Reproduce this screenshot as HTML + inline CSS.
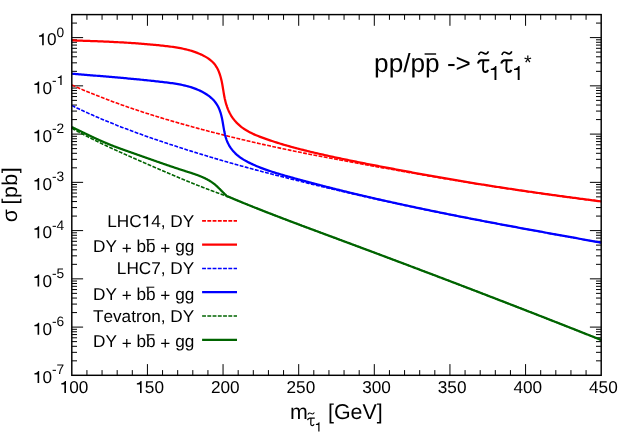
<!DOCTYPE html>
<html><head><meta charset="utf-8"><title>plot</title>
<style>
html,body{margin:0;padding:0;background:#fff;}
body{width:623px;height:436px;overflow:hidden;position:relative;font-family:"Liberation Sans",sans-serif;}
</style></head><body>
<svg width="623" height="436" viewBox="0 0 623 436" style="position:absolute;left:0;top:0;text-rendering:geometricPrecision;font-kerning:none;will-change:transform">
<path d="M86.93,375.3 v-5.2 M86.93,14.6 v5.2 M102.05,375.3 v-5.2 M102.05,14.6 v5.2 M117.18,375.3 v-5.2 M117.18,14.6 v5.2 M132.30,375.3 v-5.2 M132.30,14.6 v5.2 M147.43,375.3 v-11.2 M147.43,14.6 v11.2 M162.55,375.3 v-5.2 M162.55,14.6 v5.2 M177.68,375.3 v-5.2 M177.68,14.6 v5.2 M192.81,375.3 v-5.2 M192.81,14.6 v5.2 M207.93,375.3 v-5.2 M207.93,14.6 v5.2 M223.06,375.3 v-11.2 M223.06,14.6 v11.2 M238.18,375.3 v-5.2 M238.18,14.6 v5.2 M253.31,375.3 v-5.2 M253.31,14.6 v5.2 M268.43,375.3 v-5.2 M268.43,14.6 v5.2 M283.56,375.3 v-5.2 M283.56,14.6 v5.2 M298.69,375.3 v-11.2 M298.69,14.6 v11.2 M313.81,375.3 v-5.2 M313.81,14.6 v5.2 M328.94,375.3 v-5.2 M328.94,14.6 v5.2 M344.06,375.3 v-5.2 M344.06,14.6 v5.2 M359.19,375.3 v-5.2 M359.19,14.6 v5.2 M374.31,375.3 v-11.2 M374.31,14.6 v11.2 M389.44,375.3 v-5.2 M389.44,14.6 v5.2 M404.57,375.3 v-5.2 M404.57,14.6 v5.2 M419.69,375.3 v-5.2 M419.69,14.6 v5.2 M434.82,375.3 v-5.2 M434.82,14.6 v5.2 M449.94,375.3 v-11.2 M449.94,14.6 v11.2 M465.07,375.3 v-5.2 M465.07,14.6 v5.2 M480.19,375.3 v-5.2 M480.19,14.6 v5.2 M495.32,375.3 v-5.2 M495.32,14.6 v5.2 M510.45,375.3 v-5.2 M510.45,14.6 v5.2 M525.57,375.3 v-11.2 M525.57,14.6 v11.2 M540.70,375.3 v-5.2 M540.70,14.6 v5.2 M555.82,375.3 v-5.2 M555.82,14.6 v5.2 M570.95,375.3 v-5.2 M570.95,14.6 v5.2 M586.07,375.3 v-5.2 M586.07,14.6 v5.2 M71.8,360.83 h5.2 M601.2,360.83 h-5.2 M71.8,352.33 h5.2 M601.2,352.33 h-5.2 M71.8,346.30 h5.2 M601.2,346.30 h-5.2 M71.8,341.62 h5.2 M601.2,341.62 h-5.2 M71.8,337.80 h5.2 M601.2,337.80 h-5.2 M71.8,334.57 h5.2 M601.2,334.57 h-5.2 M71.8,331.78 h5.2 M601.2,331.78 h-5.2 M71.8,329.31 h5.2 M601.2,329.31 h-5.2 M71.8,327.10 h11.3 M601.2,327.10 h-11.3 M71.8,312.58 h5.2 M601.2,312.58 h-5.2 M71.8,304.08 h5.2 M601.2,304.08 h-5.2 M71.8,298.05 h5.2 M601.2,298.05 h-5.2 M71.8,293.37 h5.2 M601.2,293.37 h-5.2 M71.8,289.55 h5.2 M601.2,289.55 h-5.2 M71.8,286.32 h5.2 M601.2,286.32 h-5.2 M71.8,283.53 h5.2 M601.2,283.53 h-5.2 M71.8,281.06 h5.2 M601.2,281.06 h-5.2 M71.8,278.85 h11.3 M601.2,278.85 h-11.3 M71.8,264.33 h5.2 M601.2,264.33 h-5.2 M71.8,255.83 h5.2 M601.2,255.83 h-5.2 M71.8,249.80 h5.2 M601.2,249.80 h-5.2 M71.8,245.12 h5.2 M601.2,245.12 h-5.2 M71.8,241.30 h5.2 M601.2,241.30 h-5.2 M71.8,238.07 h5.2 M601.2,238.07 h-5.2 M71.8,235.28 h5.2 M601.2,235.28 h-5.2 M71.8,232.81 h5.2 M601.2,232.81 h-5.2 M71.8,230.60 h11.3 M601.2,230.60 h-11.3 M71.8,216.08 h5.2 M601.2,216.08 h-5.2 M71.8,207.58 h5.2 M601.2,207.58 h-5.2 M71.8,201.55 h5.2 M601.2,201.55 h-5.2 M71.8,196.87 h5.2 M601.2,196.87 h-5.2 M71.8,193.05 h5.2 M601.2,193.05 h-5.2 M71.8,189.82 h5.2 M601.2,189.82 h-5.2 M71.8,187.03 h5.2 M601.2,187.03 h-5.2 M71.8,184.56 h5.2 M601.2,184.56 h-5.2 M71.8,182.35 h11.3 M601.2,182.35 h-11.3 M71.8,167.83 h5.2 M601.2,167.83 h-5.2 M71.8,159.33 h5.2 M601.2,159.33 h-5.2 M71.8,153.30 h5.2 M601.2,153.30 h-5.2 M71.8,148.62 h5.2 M601.2,148.62 h-5.2 M71.8,144.80 h5.2 M601.2,144.80 h-5.2 M71.8,141.57 h5.2 M601.2,141.57 h-5.2 M71.8,138.78 h5.2 M601.2,138.78 h-5.2 M71.8,136.31 h5.2 M601.2,136.31 h-5.2 M71.8,134.10 h11.3 M601.2,134.10 h-11.3 M71.8,119.58 h5.2 M601.2,119.58 h-5.2 M71.8,111.08 h5.2 M601.2,111.08 h-5.2 M71.8,105.05 h5.2 M601.2,105.05 h-5.2 M71.8,100.37 h5.2 M601.2,100.37 h-5.2 M71.8,96.55 h5.2 M601.2,96.55 h-5.2 M71.8,93.32 h5.2 M601.2,93.32 h-5.2 M71.8,90.53 h5.2 M601.2,90.53 h-5.2 M71.8,88.06 h5.2 M601.2,88.06 h-5.2 M71.8,85.85 h11.3 M601.2,85.85 h-11.3 M71.8,71.33 h5.2 M601.2,71.33 h-5.2 M71.8,62.83 h5.2 M601.2,62.83 h-5.2 M71.8,56.80 h5.2 M601.2,56.80 h-5.2 M71.8,52.12 h5.2 M601.2,52.12 h-5.2 M71.8,48.30 h5.2 M601.2,48.30 h-5.2 M71.8,45.07 h5.2 M601.2,45.07 h-5.2 M71.8,42.28 h5.2 M601.2,42.28 h-5.2 M71.8,39.81 h5.2 M601.2,39.81 h-5.2 M71.8,37.60 h11.3 M601.2,37.60 h-11.3 M71.8,23.08 h5.2 M601.2,23.08 h-5.2" stroke="#000" stroke-width="1.0" fill="none"/>
<g fill="none" stroke-linejoin="round">
<path d="M71.82,85.03 L73.07,85.58 L74.32,86.13 L75.57,86.68 L76.82,87.22 L78.07,87.76 L79.32,88.30 L80.58,88.84 L81.83,89.37 L83.09,89.90 L84.35,90.43 L85.60,90.96 L86.86,91.48 L88.12,92.00 L89.38,92.52 L90.65,93.04 L91.91,93.55 L93.17,94.06 L94.44,94.57 L95.70,95.07 L96.97,95.58 L98.24,96.08 L99.50,96.57 L100.77,97.07 L102.04,97.56 L103.31,98.05 L104.59,98.54 L105.86,99.03 L107.13,99.51 L108.41,99.99 L109.68,100.47 L110.96,100.95 L112.23,101.42 L113.51,101.89 L114.79,102.36 L116.07,102.83 L117.35,103.29 L118.63,103.76 L119.91,104.22 L121.19,104.67 L122.48,105.13 L123.76,105.58 L125.05,106.04 L126.33,106.49 L127.62,106.93 L128.90,107.38 L130.19,107.82 L131.48,108.26 L132.77,108.70 L134.06,109.14 L135.35,109.57 L136.64,110.01 L137.93,110.44 L139.22,110.87 L140.52,111.29 L141.81,111.72 L143.11,112.14 L144.40,112.56 L145.70,112.98 L146.99,113.40 L148.29,113.82 L149.59,114.23 L150.89,114.64 L152.18,115.05 L153.48,115.46 L154.78,115.87 L156.08,116.27 L157.38,116.67 L158.69,117.08 L159.99,117.47 L161.29,117.87 L162.60,118.27 L163.90,118.66 L165.20,119.06 L166.51,119.45 L167.81,119.84 L169.12,120.22 L170.43,120.61 L171.73,120.99 L173.04,121.38 L174.35,121.76 L175.66,122.14 L176.97,122.52 L178.28,122.89 L179.59,123.27 L180.90,123.64 L182.21,124.01 L183.52,124.38 L184.83,124.75 L186.14,125.12 L187.45,125.49 L188.77,125.85 L190.08,126.22 L191.39,126.58 L192.71,126.94 L194.02,127.30 L195.34,127.66 L196.65,128.01 L197.97,128.37 L199.28,128.72 L200.60,129.08 L201.91,129.43 L203.23,129.78 L204.55,130.13 L205.87,130.48 L207.18,130.82 L208.50,131.17 L209.82,131.51 L211.14,131.86 L212.46,132.20 L213.78,132.54 L215.10,132.88 L216.42,133.22 L217.74,133.56 L219.06,133.89 L220.38,134.23 L221.70,134.56 L223.02,134.89 L224.34,135.23 L225.66,135.56 L226.98,135.89 L228.31,136.21 L229.63,136.54 L230.95,136.87 L232.28,137.19 L233.60,137.52 L234.92,137.84 L236.25,138.16 L237.57,138.48 L238.90,138.80 L240.22,139.12 L241.55,139.43 L242.87,139.75 L244.20,140.06 L245.52,140.38 L246.85,140.69 L248.17,141.00 L249.50,141.31 L250.83,141.62 L252.16,141.93 L253.48,142.24 L254.81,142.54 L256.14,142.85 L257.47,143.15 L258.79,143.45 L260.12,143.76 L261.45,144.06 L262.78,144.36 L264.11,144.65 L265.44,144.95 L266.77,145.25 L268.10,145.54 L269.43,145.84 L270.76,146.13 L272.09,146.42 L273.42,146.71 L274.75,147.00 L276.08,147.29 L277.42,147.58 L278.75,147.87 L280.08,148.15 L281.41,148.44 L282.74,148.72 L284.08,149.00 L285.41,149.28 L286.74,149.56 L288.08,149.84 L289.41,150.12 L290.74,150.40 L292.08,150.68 L293.41,150.95 L294.75,151.23 L296.08,151.50 L297.42,151.77 L298.75,152.04 L300.09,152.31 L301.42,152.58 L302.76,152.85 L304.09,153.12 L305.43,153.39 L306.76,153.65 L308.10,153.92 L309.44,154.18 L310.77,154.44 L312.11,154.71 L313.45,154.97 L314.78,155.23 L316.12,155.49 L317.46,155.75 L318.80,156.01 L320.13,156.26 L321.47,156.52 L322.81,156.78 L324.15,157.03 L325.48,157.29 L326.82,157.54 L328.16,157.79 L329.50,158.05 L330.84,158.30 L332.18,158.55 L333.52,158.80 L334.85,159.05 L336.19,159.30 L337.53,159.55 L338.87,159.80 L340.21,160.05 L341.55,160.30 L342.89,160.55 L344.23,160.79 L345.57,161.04 L346.91,161.29 L348.25,161.53 L349.59,161.78 L350.93,162.03 L352.27,162.27 L353.61,162.52 L354.95,162.76 L356.29,163.01 L357.63,163.25 L358.97,163.49 L360.31,163.74 L361.65,163.98 L362.99,164.22 L364.33,164.47 L365.67,164.71 L367.01,164.95 L368.35,165.20 L369.69,165.44 L371.03,165.68 L372.37,165.92 L373.71,166.17 L375.06,166.41 L376.40,166.65 L377.74,166.89 L379.08,167.13 L380.42,167.37 L381.76,167.61 L383.10,167.85 L384.44,168.09 L385.78,168.33 L387.12,168.57 L388.47,168.81 L389.81,169.05 L391.15,169.29 L392.49,169.53 L393.83,169.77 L395.17,170.01 L396.51,170.24 L397.85,170.48 L399.20,170.72 L400.54,170.96 L401.88,171.19 L403.22,171.43 L404.56,171.66 L405.90,171.90 L407.25,172.14 L408.59,172.37 L409.93,172.61 L411.27,172.84 L412.61,173.07 L413.96,173.31 L415.30,173.54 L416.64,173.78 L417.98,174.01 L419.33,174.24 L420.67,174.47 L422.01,174.71 L423.35,174.94 L424.70,175.17 L426.04,175.40 L427.38,175.63 L428.72,175.86 L430.07,176.09 L431.41,176.32 L432.75,176.55 L434.09,176.78 L435.44,177.01 L436.78,177.23 L438.12,177.46 L439.47,177.69 L440.81,177.92 L442.15,178.14 L443.50,178.37 L444.84,178.59 L446.18,178.82 L447.53,179.04 L448.87,179.27 L450.22,179.49 L451.56,179.72 L452.90,179.94 L454.25,180.16 L455.59,180.39 L456.94,180.61 L458.28,180.83 L459.62,181.05 L460.97,181.27 L462.31,181.49 L463.66,181.71 L465.00,181.93 L466.35,182.15 L467.69,182.37 L469.04,182.59 L470.38,182.80 L471.73,183.02 L473.07,183.24 L474.42,183.45 L475.76,183.67 L477.11,183.89 L478.45,184.10 L479.80,184.31 L481.14,184.53 L482.49,184.74 L483.83,184.96 L485.18,185.17 L486.52,185.38 L487.87,185.59 L489.22,185.80 L490.56,186.01 L491.91,186.22 L493.25,186.43 L494.60,186.64 L495.95,186.85 L497.29,187.06 L498.64,187.27 L499.98,187.47 L501.33,187.68 L502.68,187.89 L504.02,188.09 L505.37,188.30 L506.72,188.50 L508.07,188.71 L509.41,188.91 L510.76,189.11 L512.11,189.32 L513.45,189.52 L514.80,189.72 L516.15,189.92 L517.50,190.12 L518.84,190.32 L520.19,190.52 L521.54,190.72 L522.89,190.92 L524.23,191.12 L525.58,191.31 L526.93,191.51 L528.28,191.71 L529.63,191.90 L530.97,192.10 L532.32,192.29 L533.67,192.49 L535.02,192.68 L536.37,192.87 L537.72,193.07 L539.07,193.26 L540.41,193.45 L541.76,193.64 L543.11,193.83 L544.46,194.02 L545.81,194.21 L547.16,194.40 L548.51,194.58 L549.86,194.77 L551.21,194.96 L552.56,195.14 L553.91,195.33 L555.26,195.51 L556.61,195.70 L557.96,195.88 L559.31,196.07 L560.66,196.25 L562.01,196.43 L563.36,196.61 L564.71,196.79 L566.06,196.97 L567.41,197.15 L568.76,197.33 L570.11,197.51 L571.46,197.69 L572.81,197.86 L574.16,198.04 L575.52,198.22 L576.87,198.39 L578.22,198.56 L579.57,198.74 L580.92,198.91 L582.27,199.08 L583.62,199.26 L584.98,199.43 L586.33,199.60 L587.68,199.77 L589.03,199.94 L590.38,200.11 L591.74,200.27 L593.09,200.44 L594.44,200.61 L595.79,200.77 L597.15,200.94 L598.50,201.11 L599.85,201.27 L601.20,201.43" stroke="#ff0000" stroke-width="1.6" stroke-dasharray="3.85 1.4"/>
<path d="M71.77,40.37 L73.25,40.42 L74.73,40.46 L76.21,40.51 L77.69,40.56 L79.16,40.61 L80.64,40.66 L82.12,40.71 L83.59,40.76 L85.06,40.81 L86.54,40.86 L88.01,40.92 L89.48,40.97 L90.95,41.02 L92.42,41.08 L93.89,41.13 L95.36,41.19 L96.82,41.24 L98.29,41.30 L99.75,41.36 L101.22,41.42 L102.68,41.48 L104.15,41.54 L105.61,41.61 L107.08,41.67 L108.54,41.74 L110.00,41.81 L111.46,41.87 L112.92,41.95 L114.39,42.02 L115.85,42.09 L117.31,42.17 L118.77,42.25 L120.23,42.33 L121.69,42.41 L123.15,42.49 L124.61,42.58 L126.07,42.66 L127.53,42.75 L128.99,42.85 L130.45,42.94 L131.91,43.04 L133.37,43.13 L134.83,43.24 L136.29,43.34 L137.76,43.45 L139.22,43.56 L140.68,43.67 L142.14,43.78 L143.60,43.90 L145.07,44.02 L146.53,44.14 L147.99,44.27 L149.46,44.40 L150.92,44.53 L152.39,44.66 L153.86,44.80 L155.32,44.94 L156.79,45.09 L158.26,45.23 L159.73,45.39 L161.20,45.54 L162.67,45.70 L164.14,45.86 L165.61,46.03 L167.08,46.20 L168.55,46.38 L170.02,46.56 L171.49,46.76 L172.96,46.96 L174.43,47.18 L175.89,47.40 L177.35,47.64 L178.81,47.90 L180.26,48.16 L181.71,48.45 L183.15,48.75 L184.59,49.06 L186.03,49.40 L187.45,49.75 L188.88,50.13 L190.29,50.53 L191.70,50.95 L193.10,51.39 L194.49,51.86 L195.87,52.36 L197.25,52.88 L198.61,53.43 L199.97,54.00 L201.32,54.61 L202.65,55.25 L203.97,55.92 L205.27,56.63 L206.54,57.37 L207.78,58.15 L208.98,58.98 L210.14,59.84 L211.25,60.76 L212.31,61.72 L213.32,62.73 L214.26,63.80 L215.13,64.91 L215.94,66.08 L216.69,67.29 L217.39,68.54 L218.03,69.83 L218.62,71.16 L219.17,72.51 L219.67,73.89 L220.13,75.30 L220.56,76.73 L220.95,78.17 L221.30,79.63 L221.63,81.09 L221.94,82.56 L222.22,84.04 L222.49,85.51 L222.74,86.98 L222.98,88.45 L223.22,89.91 L223.46,91.38 L223.70,92.84 L223.94,94.29 L224.20,95.74 L224.48,97.19 L224.77,98.63 L225.10,100.07 L225.45,101.50 L225.83,102.92 L226.24,104.33 L226.68,105.73 L227.16,107.12 L227.67,108.49 L228.22,109.84 L228.82,111.18 L229.45,112.49 L230.12,113.79 L230.84,115.06 L231.60,116.31 L232.41,117.53 L233.26,118.72 L234.16,119.88 L235.11,121.01 L236.09,122.11 L237.11,123.17 L238.17,124.20 L239.25,125.19 L240.37,126.14 L241.51,127.05 L242.68,127.92 L243.87,128.76 L245.08,129.56 L246.32,130.33 L247.58,131.07 L248.85,131.78 L250.14,132.46 L251.45,133.12 L252.77,133.75 L254.10,134.36 L255.45,134.95 L256.81,135.53 L258.17,136.08 L259.55,136.62 L260.93,137.15 L262.31,137.66 L263.70,138.17 L265.09,138.66 L266.49,139.15 L267.88,139.64 L269.28,140.11 L270.68,140.58 L272.08,141.05 L273.48,141.51 L274.88,141.96 L276.28,142.41 L277.68,142.85 L279.09,143.28 L280.49,143.71 L281.90,144.14 L283.31,144.56 L284.72,144.97 L286.13,145.38 L287.54,145.79 L288.95,146.19 L290.36,146.58 L291.78,146.98 L293.19,147.36 L294.61,147.75 L296.03,148.12 L297.44,148.50 L298.86,148.87 L300.28,149.24 L301.70,149.60 L303.12,149.96 L304.55,150.32 L305.97,150.67 L307.39,151.02 L308.82,151.37 L310.24,151.72 L311.67,152.06 L313.09,152.40 L314.52,152.73 L315.95,153.07 L317.38,153.40 L318.81,153.73 L320.24,154.06 L321.67,154.39 L323.10,154.71 L324.53,155.03 L325.96,155.35 L327.40,155.67 L328.83,155.99 L330.26,156.30 L331.70,156.62 L333.13,156.93 L334.57,157.24 L336.01,157.55 L337.44,157.86 L338.88,158.16 L340.32,158.47 L341.75,158.77 L343.19,159.07 L344.63,159.37 L346.07,159.67 L347.51,159.97 L348.95,160.26 L350.39,160.56 L351.83,160.85 L353.27,161.14 L354.71,161.43 L356.15,161.72 L357.59,162.01 L359.04,162.30 L360.48,162.59 L361.92,162.87 L363.36,163.16 L364.81,163.44 L366.25,163.73 L367.69,164.01 L369.14,164.29 L370.58,164.57 L372.02,164.85 L373.47,165.13 L374.91,165.41 L376.35,165.69 L377.80,165.96 L379.24,166.24 L380.69,166.52 L382.13,166.79 L383.57,167.07 L385.02,167.34 L386.46,167.62 L387.91,167.89 L389.35,168.17 L390.79,168.44 L392.24,168.71 L393.68,168.98 L395.13,169.26 L396.57,169.53 L398.02,169.80 L399.46,170.07 L400.90,170.34 L402.35,170.61 L403.79,170.88 L405.23,171.15 L406.68,171.42 L408.12,171.69 L409.57,171.96 L411.01,172.23 L412.46,172.50 L413.90,172.76 L415.34,173.03 L416.79,173.29 L418.23,173.56 L419.68,173.82 L421.12,174.09 L422.57,174.35 L424.01,174.61 L425.46,174.88 L426.90,175.14 L428.35,175.40 L429.79,175.66 L431.24,175.92 L432.68,176.18 L434.13,176.43 L435.57,176.69 L437.02,176.95 L438.46,177.20 L439.91,177.46 L441.36,177.71 L442.80,177.97 L444.25,178.22 L445.70,178.47 L447.14,178.72 L448.59,178.97 L450.04,179.22 L451.48,179.47 L452.93,179.72 L454.38,179.96 L455.83,180.21 L457.28,180.45 L458.72,180.70 L460.17,180.94 L461.62,181.18 L463.07,181.42 L464.52,181.67 L465.97,181.91 L467.42,182.14 L468.87,182.38 L470.32,182.62 L471.77,182.86 L473.22,183.09 L474.67,183.33 L476.12,183.56 L477.57,183.80 L479.02,184.03 L480.47,184.26 L481.92,184.49 L483.37,184.72 L484.82,184.95 L486.27,185.18 L487.72,185.41 L489.17,185.64 L490.63,185.87 L492.08,186.09 L493.53,186.32 L494.98,186.54 L496.43,186.77 L497.89,186.99 L499.34,187.21 L500.79,187.44 L502.24,187.66 L503.70,187.88 L505.15,188.10 L506.60,188.32 L508.06,188.54 L509.51,188.76 L510.96,188.97 L512.42,189.19 L513.87,189.41 L515.32,189.62 L516.78,189.84 L518.23,190.05 L519.68,190.27 L521.14,190.48 L522.59,190.69 L524.05,190.90 L525.50,191.12 L526.95,191.33 L528.41,191.54 L529.86,191.75 L531.32,191.96 L532.77,192.16 L534.23,192.37 L535.68,192.58 L537.14,192.79 L538.59,192.99 L540.05,193.20 L541.50,193.40 L542.96,193.61 L544.41,193.81 L545.87,194.02 L547.32,194.22 L548.78,194.42 L550.23,194.63 L551.69,194.83 L553.14,195.03 L554.60,195.23 L556.06,195.43 L557.51,195.63 L558.97,195.83 L560.42,196.03 L561.88,196.23 L563.33,196.42 L564.79,196.62 L566.25,196.82 L567.70,197.02 L569.16,197.21 L570.61,197.41 L572.07,197.60 L573.53,197.80 L574.98,197.99 L576.44,198.19 L577.89,198.38 L579.35,198.57 L580.81,198.77 L582.26,198.96 L583.72,199.15 L585.17,199.34 L586.63,199.54 L588.09,199.73 L589.54,199.92 L591.00,200.11 L592.46,200.30 L593.91,200.49 L595.37,200.68 L596.82,200.87 L598.28,201.06 L599.74,201.25 L601.19,201.43" stroke="#ff0000" stroke-width="2.25"/>
<path d="M71.83,105.51 L73.07,106.12 L74.31,106.72 L75.55,107.31 L76.79,107.91 L78.03,108.50 L79.28,109.09 L80.52,109.67 L81.77,110.25 L83.02,110.83 L84.27,111.40 L85.52,111.98 L86.77,112.55 L88.02,113.11 L89.28,113.68 L90.53,114.24 L91.79,114.79 L93.04,115.35 L94.30,115.90 L95.56,116.45 L96.82,117.00 L98.08,117.54 L99.35,118.08 L100.61,118.62 L101.88,119.16 L103.14,119.69 L104.41,120.22 L105.68,120.75 L106.95,121.27 L108.22,121.79 L109.49,122.31 L110.76,122.83 L112.03,123.35 L113.31,123.86 L114.58,124.37 L115.86,124.88 L117.14,125.39 L118.42,125.89 L119.69,126.39 L120.97,126.89 L122.25,127.39 L123.54,127.88 L124.82,128.37 L126.10,128.86 L127.39,129.35 L128.67,129.84 L129.96,130.32 L131.24,130.80 L132.53,131.28 L133.82,131.76 L135.11,132.23 L136.40,132.71 L137.69,133.18 L138.98,133.65 L140.27,134.11 L141.56,134.58 L142.86,135.04 L144.15,135.51 L145.45,135.97 L146.74,136.43 L148.04,136.88 L149.33,137.34 L150.63,137.79 L151.93,138.24 L153.23,138.69 L154.53,139.14 L155.83,139.59 L157.13,140.03 L158.43,140.48 L159.73,140.92 L161.03,141.36 L162.33,141.80 L163.63,142.24 L164.94,142.67 L166.24,143.11 L167.55,143.54 L168.85,143.97 L170.16,144.40 L171.46,144.83 L172.77,145.26 L174.07,145.69 L175.38,146.11 L176.69,146.54 L178.00,146.96 L179.30,147.38 L180.61,147.80 L181.92,148.23 L183.23,148.64 L184.54,149.06 L185.85,149.48 L187.16,149.89 L188.47,150.31 L189.78,150.72 L191.09,151.13 L192.40,151.55 L193.72,151.96 L195.03,152.36 L196.34,152.77 L197.65,153.18 L198.97,153.58 L200.28,153.99 L201.59,154.39 L202.91,154.79 L204.22,155.19 L205.54,155.59 L206.85,155.99 L208.17,156.39 L209.48,156.79 L210.80,157.18 L212.12,157.58 L213.43,157.97 L214.75,158.36 L216.07,158.75 L217.39,159.14 L218.70,159.53 L220.02,159.91 L221.34,160.30 L222.66,160.68 L223.98,161.07 L225.30,161.45 L226.62,161.83 L227.94,162.21 L229.26,162.59 L230.58,162.96 L231.91,163.34 L233.23,163.71 L234.55,164.09 L235.87,164.46 L237.20,164.83 L238.52,165.20 L239.84,165.57 L241.17,165.94 L242.49,166.30 L243.82,166.67 L245.14,167.03 L246.47,167.39 L247.79,167.75 L249.12,168.11 L250.45,168.47 L251.77,168.83 L253.10,169.18 L254.43,169.54 L255.75,169.89 L257.08,170.25 L258.41,170.60 L259.74,170.95 L261.07,171.30 L262.39,171.65 L263.72,172.00 L265.05,172.35 L266.38,172.70 L267.71,173.04 L269.04,173.39 L270.37,173.73 L271.70,174.08 L273.03,174.42 L274.36,174.76 L275.69,175.10 L277.02,175.44 L278.35,175.79 L279.69,176.13 L281.02,176.46 L282.35,176.80 L283.68,177.14 L285.01,177.48 L286.34,177.82 L287.68,178.15 L289.01,178.49 L290.34,178.82 L291.67,179.16 L293.01,179.49 L294.34,179.83 L295.67,180.16 L297.01,180.49 L298.34,180.82 L299.67,181.15 L301.01,181.48 L302.34,181.81 L303.67,182.14 L305.01,182.47 L306.34,182.80 L307.68,183.13 L309.01,183.45 L310.35,183.78 L311.68,184.11 L313.02,184.43 L314.35,184.76 L315.69,185.08 L317.02,185.40 L318.36,185.73 L319.69,186.05 L321.03,186.37 L322.37,186.69 L323.70,187.01 L325.04,187.33 L326.38,187.65 L327.71,187.97 L329.05,188.29 L330.39,188.60 L331.72,188.92 L333.06,189.24 L334.40,189.55 L335.73,189.87 L337.07,190.18 L338.41,190.50 L339.75,190.81 L341.09,191.12 L342.42,191.43 L343.76,191.75 L345.10,192.06 L346.44,192.37 L347.78,192.68 L349.12,192.99 L350.46,193.29 L351.80,193.60 L353.14,193.91 L354.47,194.22 L355.81,194.52 L357.15,194.83 L358.49,195.13 L359.83,195.44 L361.17,195.74 L362.51,196.05 L363.85,196.35 L365.20,196.65 L366.54,196.95 L367.88,197.26 L369.22,197.56 L370.56,197.86 L371.90,198.16 L373.24,198.45 L374.58,198.75 L375.92,199.05 L377.27,199.35 L378.61,199.64 L379.95,199.94 L381.29,200.24 L382.63,200.53 L383.98,200.82 L385.32,201.12 L386.66,201.41 L388.00,201.70 L389.35,202.00 L390.69,202.29 L392.03,202.58 L393.38,202.87 L394.72,203.16 L396.06,203.45 L397.41,203.74 L398.75,204.03 L400.09,204.31 L401.44,204.60 L402.78,204.89 L404.13,205.17 L405.47,205.46 L406.82,205.74 L408.16,206.03 L409.50,206.31 L410.85,206.59 L412.19,206.88 L413.54,207.16 L414.88,207.44 L416.23,207.72 L417.57,208.00 L418.92,208.28 L420.27,208.56 L421.61,208.84 L422.96,209.12 L424.30,209.39 L425.65,209.67 L426.99,209.95 L428.34,210.22 L429.69,210.50 L431.03,210.77 L432.38,211.05 L433.73,211.32 L435.07,211.60 L436.42,211.87 L437.77,212.14 L439.11,212.41 L440.46,212.68 L441.81,212.96 L443.16,213.23 L444.50,213.50 L445.85,213.77 L447.20,214.03 L448.55,214.30 L449.89,214.57 L451.24,214.84 L452.59,215.11 L453.94,215.37 L455.29,215.64 L456.63,215.90 L457.98,216.17 L459.33,216.43 L460.68,216.70 L462.03,216.96 L463.38,217.23 L464.72,217.49 L466.07,217.75 L467.42,218.01 L468.77,218.28 L470.12,218.54 L471.47,218.80 L472.82,219.06 L474.17,219.32 L475.52,219.58 L476.87,219.84 L478.22,220.10 L479.57,220.36 L480.92,220.62 L482.27,220.88 L483.61,221.13 L484.96,221.39 L486.31,221.65 L487.66,221.91 L489.01,222.16 L490.36,222.42 L491.71,222.67 L493.07,222.93 L494.42,223.18 L495.77,223.44 L497.12,223.69 L498.47,223.95 L499.82,224.20 L501.17,224.46 L502.52,224.71 L503.87,224.96 L505.22,225.22 L506.57,225.47 L507.92,225.72 L509.27,225.97 L510.62,226.22 L511.97,226.48 L513.33,226.73 L514.68,226.98 L516.03,227.23 L517.38,227.48 L518.73,227.73 L520.08,227.98 L521.43,228.23 L522.78,228.48 L524.14,228.73 L525.49,228.98 L526.84,229.22 L528.19,229.47 L529.54,229.72 L530.89,229.97 L532.25,230.22 L533.60,230.47 L534.95,230.71 L536.30,230.96 L537.65,231.21 L539.00,231.46 L540.36,231.70 L541.71,231.95 L543.06,232.20 L544.41,232.44 L545.76,232.69 L547.12,232.93 L548.47,233.18 L549.82,233.43 L551.17,233.67 L552.52,233.92 L553.88,234.16 L555.23,234.41 L556.58,234.65 L557.93,234.90 L559.28,235.14 L560.64,235.39 L561.99,235.63 L563.34,235.88 L564.69,236.12 L566.05,236.37 L567.40,236.61 L568.75,236.86 L570.10,237.10 L571.46,237.34 L572.81,237.59 L574.16,237.83 L575.51,238.08 L576.86,238.32 L578.22,238.56 L579.57,238.81 L580.92,239.05 L582.27,239.29 L583.63,239.54 L584.98,239.78 L586.33,240.03 L587.68,240.27 L589.04,240.51 L590.39,240.76 L591.74,241.00 L593.09,241.24 L594.45,241.49 L595.80,241.73 L597.15,241.97 L598.50,242.22 L599.86,242.46 L601.21,242.70" stroke="#0000ff" stroke-width="1.6" stroke-dasharray="3.85 1.4"/>
<path d="M71.77,73.69 L73.24,73.82 L74.71,73.94 L76.17,74.06 L77.64,74.19 L79.10,74.31 L80.57,74.43 L82.03,74.55 L83.49,74.67 L84.96,74.79 L86.42,74.91 L87.88,75.03 L89.33,75.15 L90.79,75.27 L92.25,75.39 L93.71,75.51 L95.17,75.63 L96.62,75.75 L98.08,75.87 L99.53,75.99 L100.99,76.11 L102.44,76.24 L103.89,76.36 L105.35,76.48 L106.80,76.60 L108.25,76.72 L109.71,76.85 L111.16,76.97 L112.61,77.09 L114.06,77.22 L115.51,77.34 L116.96,77.47 L118.41,77.60 L119.86,77.72 L121.32,77.85 L122.77,77.98 L124.22,78.11 L125.67,78.24 L127.12,78.37 L128.57,78.51 L130.02,78.64 L131.47,78.77 L132.92,78.91 L134.37,79.05 L135.83,79.19 L137.28,79.33 L138.73,79.47 L140.18,79.61 L141.63,79.75 L143.09,79.90 L144.54,80.05 L145.99,80.19 L147.45,80.34 L148.90,80.50 L150.36,80.65 L151.81,80.80 L153.27,80.96 L154.73,81.12 L156.18,81.28 L157.64,81.44 L159.10,81.60 L160.56,81.77 L162.02,81.94 L163.48,82.11 L164.94,82.28 L166.40,82.45 L167.86,82.64 L169.32,82.82 L170.78,83.02 L172.24,83.22 L173.70,83.43 L175.15,83.66 L176.60,83.89 L178.05,84.14 L179.49,84.40 L180.93,84.68 L182.36,84.98 L183.79,85.29 L185.21,85.63 L186.63,85.98 L188.04,86.35 L189.45,86.75 L190.84,87.17 L192.23,87.62 L193.61,88.09 L194.99,88.59 L196.35,89.12 L197.70,89.68 L199.05,90.27 L200.38,90.89 L201.70,91.54 L203.01,92.23 L204.30,92.95 L205.56,93.71 L206.80,94.50 L208.00,95.33 L209.17,96.20 L210.31,97.10 L211.40,98.05 L212.45,99.03 L213.45,100.05 L214.40,101.12 L215.30,102.22 L216.13,103.37 L216.91,104.56 L217.62,105.78 L218.29,107.05 L218.90,108.34 L219.46,109.67 L219.97,111.02 L220.44,112.40 L220.86,113.80 L221.25,115.21 L221.60,116.64 L221.92,118.09 L222.22,119.55 L222.50,121.01 L222.76,122.49 L223.01,123.97 L223.26,125.44 L223.50,126.92 L223.75,128.40 L224.02,129.87 L224.29,131.34 L224.59,132.79 L224.91,134.24 L225.26,135.67 L225.65,137.08 L226.08,138.47 L226.55,139.85 L227.07,141.20 L227.65,142.52 L228.28,143.82 L228.96,145.08 L229.69,146.32 L230.48,147.53 L231.31,148.71 L232.18,149.86 L233.11,150.97 L234.07,152.05 L235.07,153.09 L236.12,154.10 L237.20,155.06 L238.32,155.99 L239.47,156.89 L240.65,157.74 L241.86,158.56 L243.10,159.34 L244.36,160.10 L245.63,160.83 L246.93,161.53 L248.23,162.21 L249.55,162.87 L250.87,163.51 L252.20,164.14 L253.53,164.75 L254.87,165.34 L256.22,165.92 L257.57,166.49 L258.92,167.04 L260.28,167.58 L261.64,168.11 L263.01,168.63 L264.38,169.13 L265.76,169.62 L267.14,170.11 L268.52,170.58 L269.90,171.04 L271.29,171.50 L272.68,171.95 L274.08,172.39 L275.47,172.82 L276.87,173.25 L278.27,173.67 L279.67,174.09 L281.07,174.50 L282.48,174.91 L283.89,175.31 L285.29,175.71 L286.70,176.11 L288.11,176.51 L289.52,176.90 L290.92,177.29 L292.33,177.69 L293.74,178.08 L295.15,178.47 L296.56,178.86 L297.97,179.24 L299.38,179.63 L300.79,180.01 L302.20,180.40 L303.61,180.78 L305.03,181.16 L306.44,181.54 L307.85,181.92 L309.26,182.30 L310.68,182.67 L312.09,183.05 L313.50,183.42 L314.92,183.79 L316.33,184.16 L317.74,184.53 L319.16,184.90 L320.57,185.27 L321.99,185.64 L323.40,186.00 L324.82,186.36 L326.24,186.73 L327.65,187.09 L329.07,187.45 L330.48,187.81 L331.90,188.17 L333.32,188.52 L334.74,188.88 L336.15,189.23 L337.57,189.59 L338.99,189.94 L340.41,190.29 L341.83,190.64 L343.25,190.99 L344.67,191.34 L346.09,191.69 L347.51,192.03 L348.93,192.38 L350.35,192.72 L351.77,193.07 L353.19,193.41 L354.61,193.75 L356.03,194.09 L357.45,194.43 L358.88,194.76 L360.30,195.10 L361.72,195.44 L363.14,195.77 L364.56,196.11 L365.99,196.44 L367.41,196.77 L368.83,197.10 L370.26,197.43 L371.68,197.76 L373.11,198.09 L374.53,198.42 L375.96,198.74 L377.38,199.07 L378.81,199.39 L380.23,199.71 L381.66,200.04 L383.08,200.36 L384.51,200.68 L385.93,201.00 L387.36,201.32 L388.79,201.64 L390.21,201.95 L391.64,202.27 L393.07,202.58 L394.49,202.90 L395.92,203.21 L397.35,203.53 L398.78,203.84 L400.21,204.15 L401.63,204.46 L403.06,204.77 L404.49,205.08 L405.92,205.39 L407.35,205.69 L408.78,206.00 L410.21,206.31 L411.64,206.61 L413.07,206.91 L414.50,207.22 L415.93,207.52 L417.36,207.82 L418.79,208.12 L420.22,208.42 L421.65,208.72 L423.08,209.02 L424.51,209.32 L425.94,209.62 L427.37,209.92 L428.80,210.21 L430.24,210.51 L431.67,210.80 L433.10,211.10 L434.53,211.39 L435.96,211.68 L437.40,211.97 L438.83,212.27 L440.26,212.56 L441.69,212.85 L443.13,213.14 L444.56,213.43 L445.99,213.71 L447.43,214.00 L448.86,214.29 L450.29,214.58 L451.73,214.86 L453.16,215.15 L454.59,215.43 L456.03,215.72 L457.46,216.00 L458.90,216.28 L460.33,216.57 L461.77,216.85 L463.20,217.13 L464.64,217.41 L466.07,217.69 L467.51,217.97 L468.94,218.25 L470.38,218.53 L471.81,218.81 L473.25,219.09 L474.68,219.36 L476.12,219.64 L477.55,219.92 L478.99,220.19 L480.43,220.47 L481.86,220.74 L483.30,221.02 L484.73,221.29 L486.17,221.57 L487.61,221.84 L489.04,222.11 L490.48,222.38 L491.92,222.66 L493.35,222.93 L494.79,223.20 L496.23,223.47 L497.66,223.74 L499.10,224.01 L500.54,224.28 L501.98,224.55 L503.41,224.82 L504.85,225.09 L506.29,225.36 L507.72,225.63 L509.16,225.89 L510.60,226.16 L512.04,226.43 L513.47,226.69 L514.91,226.96 L516.35,227.23 L517.79,227.49 L519.23,227.76 L520.66,228.02 L522.10,228.29 L523.54,228.55 L524.98,228.82 L526.42,229.08 L527.85,229.35 L529.29,229.61 L530.73,229.87 L532.17,230.14 L533.61,230.40 L535.04,230.66 L536.48,230.93 L537.92,231.19 L539.36,231.45 L540.80,231.71 L542.24,231.98 L543.67,232.24 L545.11,232.50 L546.55,232.76 L547.99,233.02 L549.43,233.28 L550.87,233.55 L552.31,233.81 L553.74,234.07 L555.18,234.33 L556.62,234.59 L558.06,234.85 L559.50,235.11 L560.94,235.37 L562.37,235.63 L563.81,235.89 L565.25,236.15 L566.69,236.41 L568.13,236.67 L569.57,236.93 L571.01,237.19 L572.44,237.45 L573.88,237.71 L575.32,237.97 L576.76,238.23 L578.20,238.49 L579.64,238.75 L581.07,239.01 L582.51,239.27 L583.95,239.53 L585.39,239.79 L586.83,240.05 L588.27,240.31 L589.70,240.57 L591.14,240.83 L592.58,241.09 L594.02,241.35 L595.46,241.61 L596.89,241.87 L598.33,242.13 L599.77,242.39 L601.21,242.65" stroke="#0000ff" stroke-width="2.25"/>
<path d="M71.83,128.24 L72.20,128.44 L72.58,128.65 L72.95,128.86 L73.32,129.07 L73.70,129.27 L74.07,129.48 L74.44,129.68 L74.82,129.89 L75.19,130.09 L75.56,130.30 L75.94,130.50 L76.31,130.71 L76.69,130.91 L77.06,131.11 L77.44,131.31 L77.81,131.52 L78.19,131.72 L78.56,131.92 L78.94,132.12 L79.32,132.32 L79.69,132.52 L80.07,132.72 L80.44,132.92 L80.82,133.12 L81.20,133.32 L81.57,133.52 L81.95,133.72 L82.33,133.92 L82.71,134.11 L83.08,134.31 L83.46,134.51 L83.84,134.70 L84.22,134.90 L84.59,135.10 L84.97,135.29 L85.35,135.49 L85.73,135.68 L86.11,135.88 L86.49,136.07 L86.87,136.27 L87.24,136.46 L87.62,136.65 L88.00,136.85 L88.38,137.04 L88.76,137.23 L89.14,137.43 L89.52,137.62 L89.90,137.81 L90.28,138.00 L90.66,138.19 L91.04,138.38 L91.42,138.57 L91.80,138.76 L92.18,138.95 L92.57,139.14 L92.95,139.33 L93.33,139.52 L93.71,139.71 L94.09,139.90 L94.47,140.09 L94.85,140.28 L95.24,140.47 L95.62,140.65 L96.00,140.84 L96.38,141.03 L96.77,141.21 L97.15,141.40 L97.53,141.59 L97.91,141.77 L98.30,141.96 L98.68,142.15 L99.06,142.33 L99.45,142.52 L99.83,142.70 L100.21,142.89 L100.60,143.07 L100.98,143.25 L101.36,143.44 L101.75,143.62 L102.13,143.81 L102.52,143.99 L102.90,144.17 L103.28,144.35 L103.67,144.54 L104.05,144.72 L104.44,144.90 L104.82,145.08 L105.21,145.27 L105.59,145.45 L105.98,145.63 L106.36,145.81 L106.75,145.99 L107.13,146.17 L107.52,146.35 L107.90,146.53 L108.29,146.71 L108.67,146.89 L109.06,147.07 L109.45,147.25 L109.83,147.43 L110.22,147.61 L110.60,147.79 L110.99,147.97 L111.38,148.15 L111.76,148.32 L112.15,148.50 L112.54,148.68 L112.92,148.86 L113.31,149.04 L113.70,149.21 L114.08,149.39 L114.47,149.57 L114.86,149.74 L115.25,149.92 L115.63,150.10 L116.02,150.27 L116.41,150.45 L116.80,150.63 L117.18,150.80 L117.57,150.98 L117.96,151.15 L118.35,151.33 L118.73,151.51 L119.12,151.68 L119.51,151.86 L119.90,152.03 L120.29,152.21 L120.67,152.38 L121.06,152.56 L121.45,152.73 L121.84,152.90 L122.23,153.08 L122.62,153.25 L123.00,153.43 L123.39,153.60 L123.78,153.77 L124.17,153.95 L124.56,154.12 L124.95,154.30 L125.34,154.47 L125.73,154.64 L126.12,154.81 L126.50,154.99 L126.89,155.16 L127.28,155.33 L127.67,155.51 L128.06,155.68 L128.45,155.85 L128.84,156.02 L129.23,156.20 L129.62,156.37 L130.01,156.54 L130.40,156.71 L130.79,156.88 L131.18,157.06 L131.57,157.23 L131.96,157.40 L132.35,157.57 L132.74,157.74 L133.13,157.91 L133.52,158.09 L133.91,158.26 L134.30,158.43 L134.69,158.60 L135.08,158.77 L135.47,158.94 L135.86,159.11 L136.25,159.28 L136.64,159.45 L137.03,159.63 L137.42,159.80 L137.81,159.97 L138.20,160.14 L138.59,160.31 L138.98,160.48 L139.37,160.65 L139.76,160.82 L140.15,160.99 L140.54,161.16 L140.93,161.33 L141.32,161.50 L141.71,161.67 L142.10,161.84 L142.49,162.01 L142.88,162.18 L143.27,162.35 L143.66,162.52 L144.05,162.69 L144.44,162.86 L144.83,163.03 L145.23,163.20 L145.62,163.37 L146.01,163.55 L146.40,163.72 L146.79,163.89 L147.18,164.06 L147.57,164.23 L147.96,164.40 L148.35,164.57 L148.74,164.74 L149.13,164.91 L149.52,165.08 L149.91,165.25 L150.30,165.42 L150.69,165.59 L151.08,165.76 L151.48,165.93 L151.87,166.10 L152.26,166.27 L152.65,166.44 L153.04,166.60 L153.43,166.77 L153.82,166.94 L154.21,167.11 L154.60,167.28 L154.99,167.45 L155.38,167.62 L155.78,167.79 L156.17,167.96 L156.56,168.13 L156.95,168.30 L157.34,168.47 L157.73,168.64 L158.12,168.81 L158.51,168.98 L158.90,169.15 L159.29,169.31 L159.69,169.48 L160.08,169.65 L160.47,169.82 L160.86,169.99 L161.25,170.16 L161.64,170.33 L162.03,170.50 L162.43,170.66 L162.82,170.83 L163.21,171.00 L163.60,171.17 L163.99,171.34 L164.38,171.51 L164.77,171.67 L165.17,171.84 L165.56,172.01 L165.95,172.18 L166.34,172.34 L166.73,172.51 L167.12,172.68 L167.52,172.85 L167.91,173.01 L168.30,173.18 L168.69,173.35 L169.08,173.52 L169.47,173.68 L169.87,173.85 L170.26,174.02 L170.65,174.18 L171.04,174.35 L171.44,174.52 L171.83,174.68 L172.22,174.85 L172.61,175.01 L173.00,175.18 L173.40,175.35 L173.79,175.51 L174.18,175.68 L174.57,175.84 L174.97,176.01 L175.36,176.18 L175.75,176.34 L176.14,176.51 L176.54,176.67 L176.93,176.84 L177.32,177.00 L177.71,177.16 L178.11,177.33 L178.50,177.49 L178.89,177.66 L179.29,177.82 L179.68,177.99 L180.07,178.15 L180.47,178.31 L180.86,178.48 L181.25,178.64 L181.65,178.80 L182.04,178.97 L182.43,179.13 L182.83,179.29 L183.22,179.46 L183.61,179.62 L184.01,179.78 L184.40,179.94 L184.79,180.11 L185.19,180.27 L185.58,180.43 L185.97,180.59 L186.37,180.75 L186.76,180.92 L187.16,181.08 L187.55,181.24 L187.94,181.40 L188.34,181.56 L188.73,181.72 L189.13,181.88 L189.52,182.04 L189.92,182.20 L190.31,182.36 L190.70,182.52 L191.10,182.68 L191.49,182.84 L191.89,183.00 L192.28,183.16 L192.68,183.32 L193.07,183.48 L193.47,183.64 L193.86,183.80 L194.26,183.95 L194.65,184.11 L195.05,184.27 L195.44,184.43 L195.84,184.59 L196.23,184.74 L196.63,184.90 L197.02,185.06 L197.42,185.21 L197.82,185.37 L198.21,185.53 L198.61,185.68 L199.00,185.84 L199.40,186.00 L199.79,186.15 L200.19,186.31 L200.59,186.46 L200.98,186.62 L201.38,186.77 L201.78,186.93 L202.17,187.08 L202.57,187.24 L202.96,187.39 L203.36,187.54 L203.76,187.70 L204.15,187.85 L204.55,188.00 L204.95,188.16 L205.35,188.31 L205.74,188.46 L206.14,188.62 L206.54,188.77 L206.93,188.92 L207.33,189.07 L207.73,189.22 L208.13,189.37 L208.52,189.52 L208.92,189.68 L209.32,189.83 L209.72,189.98 L210.11,190.13 L210.51,190.28 L210.91,190.43 L211.31,190.58 L211.71,190.72 L212.10,190.87 L212.50,191.02 L212.90,191.17 L213.30,191.32 L213.70,191.47 L214.10,191.61 L214.50,191.76 L214.89,191.91 L215.29,192.06 L215.69,192.20 L216.09,192.35 L216.49,192.50 L216.89,192.64 L217.29,192.79 L217.69,192.93 L218.09,193.08 L218.49,193.22 L218.89,193.37 L219.29,193.51 L219.69,193.66 L220.09,193.80 L220.49,193.94 L220.89,194.09 L221.29,194.23 L221.69,194.37 L222.09,194.52 L222.49,194.66 L222.89,194.80 L223.29,194.94 L223.69,195.08 L224.09,195.22 L224.49,195.36 L224.89,195.50 L225.30,195.65 L225.70,195.79 L226.10,195.92 L226.50,196.06 L226.90,196.20 L227.30,196.34 L228.23,196.62 L229.15,197.01 L230.08,197.40 L231.00,197.80 L231.92,198.19 L232.85,198.58 L233.77,198.97 L234.70,199.35 L235.63,199.74 L236.55,200.13 L237.48,200.51 L238.41,200.90 L239.34,201.28 L240.26,201.66 L241.19,202.04 L242.12,202.43 L243.05,202.81 L243.98,203.19 L244.91,203.56 L245.84,203.94 L246.77,204.32 L247.70,204.70 L248.63,205.07 L249.56,205.45 L250.49,205.82 L251.42,206.19 L252.36,206.57 L253.29,206.94 L254.22,207.31 L255.15,207.68 L256.09,208.05 L257.02,208.42 L257.95,208.79 L258.89,209.16 L259.82,209.53 L260.75,209.90 L261.69,210.26 L262.62,210.63 L263.56,211.00 L264.49,211.36 L265.43,211.73 L266.36,212.09 L267.30,212.46 L268.23,212.82 L269.17,213.18 L270.11,213.55 L271.04,213.91 L271.98,214.27 L272.92,214.63 L273.85,214.99 L274.79,215.35 L275.73,215.71 L276.66,216.07 L277.60,216.43 L278.54,216.79 L279.47,217.15 L280.41,217.51 L281.35,217.87 L282.29,218.23 L283.23,218.59 L284.16,218.94 L285.10,219.30 L286.04,219.66 L286.98,220.01 L287.92,220.37 L288.86,220.72 L289.80,221.08 L290.74,221.44 L291.68,221.79 L292.61,222.14 L293.55,222.50 L294.49,222.85 L295.43,223.21 L296.37,223.56 L297.31,223.91 L298.25,224.27 L299.19,224.62 L300.13,224.97 L301.07,225.33 L302.01,225.68 L302.95,226.03 L303.89,226.38 L304.84,226.73 L305.78,227.08 L306.72,227.44 L307.66,227.79 L308.60,228.14 L309.54,228.49 L310.48,228.84 L311.42,229.19 L312.36,229.54 L313.30,229.89 L314.24,230.24 L315.19,230.59 L316.13,230.94 L317.07,231.29 L318.01,231.64 L318.95,231.99 L319.89,232.34 L320.83,232.69 L321.77,233.04 L322.72,233.39 L323.66,233.74 L324.60,234.09 L325.54,234.44 L326.48,234.79 L327.42,235.14 L328.36,235.49 L329.31,235.83 L330.25,236.18 L331.19,236.53 L332.13,236.88 L333.07,237.23 L334.01,237.58 L334.96,237.93 L335.90,238.28 L336.84,238.63 L337.78,238.98 L338.72,239.33 L339.66,239.68 L340.60,240.03 L341.55,240.38 L342.49,240.73 L343.43,241.08 L344.37,241.43 L345.31,241.78 L346.25,242.13 L347.19,242.48 L348.13,242.83 L349.08,243.18 L350.02,243.53 L350.96,243.88 L351.90,244.23 L352.84,244.58 L353.78,244.93 L354.72,245.28 L355.66,245.63 L356.60,245.98 L357.54,246.33 L358.49,246.68 L359.43,247.03 L360.37,247.38 L361.31,247.73 L362.25,248.09 L363.19,248.44 L364.13,248.79 L365.07,249.14 L366.01,249.49 L366.95,249.84 L367.89,250.19 L368.83,250.54 L369.77,250.90 L370.71,251.25 L371.66,251.60 L372.60,251.95 L373.54,252.30 L374.48,252.65 L375.42,253.01 L376.36,253.36 L377.30,253.71 L378.24,254.06 L379.18,254.41 L380.12,254.77 L381.06,255.12 L382.00,255.47 L382.94,255.82 L383.88,256.18 L384.82,256.53 L385.76,256.88 L386.70,257.23 L387.64,257.59 L388.58,257.94 L389.52,258.29 L390.46,258.65 L391.40,259.00 L392.34,259.35 L393.28,259.71 L394.22,260.06 L395.16,260.41 L396.10,260.77 L397.04,261.12 L397.98,261.47 L398.92,261.83 L399.86,262.18 L400.80,262.53 L401.74,262.89 L402.68,263.24 L403.62,263.59 L404.56,263.95 L405.50,264.30 L406.44,264.66 L407.38,265.01 L408.32,265.37 L409.26,265.72 L410.19,266.07 L411.13,266.43 L412.07,266.78 L413.01,267.14 L413.95,267.49 L414.89,267.85 L415.83,268.20 L416.77,268.56 L417.71,268.91 L418.65,269.27 L419.59,269.62 L420.53,269.98 L421.47,270.33 L422.41,270.69 L423.34,271.04 L424.28,271.40 L425.22,271.75 L426.16,272.11 L427.10,272.47 L428.04,272.82 L428.98,273.18 L429.92,273.53 L430.86,273.89 L431.79,274.25 L432.73,274.60 L433.67,274.96 L434.61,275.31 L435.55,275.67 L436.49,276.03 L437.43,276.38 L438.37,276.74 L439.30,277.10 L440.24,277.45 L441.18,277.81 L442.12,278.17 L443.06,278.52 L444.00,278.88 L444.94,279.24 L445.87,279.59 L446.81,279.95 L447.75,280.31 L448.69,280.67 L449.63,281.02 L450.56,281.38 L451.50,281.74 L452.44,282.10 L453.38,282.45 L454.32,282.81 L455.26,283.17 L456.19,283.53 L457.13,283.89 L458.07,284.24 L459.01,284.60 L459.95,284.96 L460.88,285.32 L461.82,285.68 L462.76,286.04 L463.70,286.39 L464.64,286.75 L465.57,287.11 L466.51,287.47 L467.45,287.83 L468.39,288.19 L469.32,288.55 L470.26,288.91 L471.20,289.27 L472.14,289.63 L473.07,289.98 L474.01,290.34 L474.95,290.70 L475.89,291.06 L476.82,291.42 L477.76,291.78 L478.70,292.14 L479.64,292.50 L480.57,292.86 L481.51,293.22 L482.45,293.58 L483.38,293.94 L484.32,294.30 L485.26,294.66 L486.20,295.02 L487.13,295.38 L488.07,295.75 L489.01,296.11 L489.94,296.47 L490.88,296.83 L491.82,297.19 L492.76,297.55 L493.69,297.91 L494.63,298.27 L495.57,298.63 L496.50,298.99 L497.44,299.36 L498.38,299.72 L499.31,300.08 L500.25,300.44 L501.19,300.80 L502.12,301.16 L503.06,301.53 L504.00,301.89 L504.93,302.25 L505.87,302.61 L506.80,302.98 L507.74,303.34 L508.68,303.70 L509.61,304.06 L510.55,304.43 L511.49,304.79 L512.42,305.15 L513.36,305.51 L514.30,305.88 L515.23,306.24 L516.17,306.60 L517.10,306.97 L518.04,307.33 L518.98,307.69 L519.91,308.06 L520.85,308.42 L521.78,308.78 L522.72,309.15 L523.66,309.51 L524.59,309.87 L525.53,310.24 L526.46,310.60 L527.40,310.97 L528.33,311.33 L529.27,311.69 L530.21,312.06 L531.14,312.42 L532.08,312.79 L533.01,313.15 L533.95,313.52 L534.88,313.88 L535.82,314.25 L536.75,314.61 L537.69,314.98 L538.62,315.34 L539.56,315.71 L540.50,316.07 L541.43,316.44 L542.37,316.80 L543.30,317.17 L544.24,317.53 L545.17,317.90 L546.11,318.27 L547.04,318.63 L547.98,319.00 L548.91,319.36 L549.85,319.73 L550.78,320.10 L551.72,320.46 L552.65,320.83 L553.59,321.20 L554.52,321.56 L555.46,321.93 L556.39,322.30 L557.32,322.66 L558.26,323.03 L559.19,323.40 L560.13,323.76 L561.06,324.13 L562.00,324.50 L562.93,324.87 L563.87,325.23 L564.80,325.60 L565.74,325.97 L566.67,326.34 L567.60,326.71 L568.54,327.07 L569.47,327.44 L570.41,327.81 L571.34,328.18 L572.27,328.55 L573.21,328.92 L574.14,329.28 L575.08,329.65 L576.01,330.02 L576.95,330.39 L577.88,330.76 L578.81,331.13 L579.75,331.50 L580.68,331.87 L581.61,332.24 L582.55,332.60 L583.48,332.97 L584.42,333.34 L585.35,333.71 L586.28,334.08 L587.22,334.45 L588.15,334.82 L589.08,335.19 L590.02,335.56 L590.95,335.93 L591.88,336.30 L592.82,336.67 L593.75,337.04 L594.68,337.42 L595.62,337.79 L596.55,338.16 L597.48,338.53 L598.42,338.90 L599.35,339.27 L600.28,339.64 L601.22,340.01" stroke="#006400" stroke-width="1.6" stroke-dasharray="3.85 1.4"/>
<path d="M71.81,127.06 L72.20,127.25 L72.59,127.43 L72.98,127.62 L73.37,127.80 L73.76,127.99 L74.15,128.18 L74.54,128.36 L74.93,128.55 L75.32,128.73 L75.71,128.92 L76.09,129.11 L76.48,129.29 L76.87,129.48 L77.26,129.67 L77.65,129.85 L78.04,130.04 L78.42,130.23 L78.81,130.41 L79.20,130.60 L79.59,130.79 L79.98,130.98 L80.36,131.16 L80.75,131.35 L81.14,131.54 L81.53,131.72 L81.91,131.91 L82.30,132.10 L82.69,132.29 L83.08,132.47 L83.46,132.66 L83.85,132.85 L84.24,133.03 L84.63,133.22 L85.01,133.41 L85.40,133.59 L85.79,133.78 L86.18,133.96 L86.56,134.15 L86.95,134.34 L87.34,134.52 L87.73,134.71 L88.11,134.89 L88.50,135.08 L88.89,135.26 L89.28,135.45 L89.67,135.63 L90.05,135.82 L90.44,136.00 L90.83,136.19 L91.22,136.37 L91.61,136.55 L92.00,136.74 L92.39,136.92 L92.77,137.10 L93.16,137.28 L93.55,137.46 L93.94,137.65 L94.33,137.83 L94.72,138.01 L95.11,138.19 L95.50,138.37 L95.89,138.55 L96.28,138.73 L96.67,138.91 L97.06,139.09 L97.45,139.26 L97.84,139.44 L98.23,139.62 L98.63,139.80 L99.02,139.97 L99.41,140.15 L99.80,140.33 L100.19,140.50 L100.59,140.68 L100.98,140.85 L101.37,141.02 L101.76,141.20 L102.16,141.37 L102.55,141.54 L102.95,141.71 L103.34,141.88 L103.73,142.05 L104.13,142.22 L104.52,142.39 L104.92,142.56 L105.31,142.73 L105.71,142.90 L106.11,143.07 L106.50,143.23 L106.90,143.40 L107.30,143.56 L107.69,143.73 L108.09,143.89 L108.49,144.06 L108.89,144.22 L109.29,144.38 L109.69,144.54 L110.09,144.70 L110.49,144.86 L110.89,145.02 L111.29,145.18 L111.69,145.34 L112.09,145.50 L112.49,145.65 L112.89,145.81 L113.29,145.96 L113.69,146.12 L114.10,146.27 L114.50,146.43 L114.90,146.58 L115.30,146.74 L115.71,146.89 L116.11,147.04 L116.52,147.19 L116.92,147.34 L117.32,147.50 L117.73,147.65 L118.13,147.80 L118.54,147.95 L118.94,148.09 L119.35,148.24 L119.75,148.39 L120.16,148.54 L120.56,148.69 L120.97,148.84 L121.37,148.98 L121.78,149.13 L122.18,149.28 L122.59,149.42 L123.00,149.57 L123.40,149.71 L123.81,149.86 L124.22,150.01 L124.62,150.15 L125.03,150.30 L125.43,150.44 L125.84,150.58 L126.25,150.73 L126.65,150.87 L127.06,151.02 L127.47,151.16 L127.88,151.30 L128.28,151.45 L128.69,151.59 L129.10,151.73 L129.50,151.88 L129.91,152.02 L130.32,152.16 L130.72,152.30 L131.13,152.45 L131.54,152.59 L131.94,152.73 L132.35,152.88 L132.76,153.02 L133.16,153.16 L133.57,153.30 L133.97,153.45 L134.38,153.59 L134.79,153.73 L135.19,153.87 L135.60,154.02 L136.00,154.16 L136.41,154.30 L136.82,154.45 L137.22,154.59 L137.63,154.73 L138.03,154.88 L138.44,155.02 L138.84,155.16 L139.25,155.30 L139.65,155.45 L140.06,155.59 L140.46,155.73 L140.87,155.88 L141.27,156.02 L141.68,156.16 L142.08,156.31 L142.49,156.45 L142.89,156.59 L143.30,156.74 L143.70,156.88 L144.11,157.02 L144.51,157.17 L144.92,157.31 L145.32,157.45 L145.73,157.59 L146.13,157.74 L146.54,157.88 L146.94,158.02 L147.34,158.17 L147.75,158.31 L148.15,158.45 L148.56,158.60 L148.96,158.74 L149.37,158.88 L149.77,159.02 L150.18,159.17 L150.58,159.31 L150.98,159.45 L151.39,159.59 L151.79,159.74 L152.20,159.88 L152.60,160.02 L153.01,160.17 L153.41,160.31 L153.82,160.45 L154.22,160.59 L154.62,160.73 L155.03,160.88 L155.43,161.02 L155.84,161.16 L156.24,161.30 L156.65,161.44 L157.05,161.59 L157.46,161.73 L157.86,161.87 L158.27,162.01 L158.67,162.15 L159.08,162.29 L159.48,162.43 L159.89,162.58 L160.29,162.72 L160.70,162.86 L161.10,163.00 L161.51,163.14 L161.91,163.28 L162.32,163.42 L162.73,163.56 L163.13,163.70 L163.54,163.84 L163.94,163.98 L164.35,164.12 L164.75,164.26 L165.16,164.40 L165.57,164.54 L165.97,164.68 L166.38,164.82 L166.79,164.96 L167.19,165.10 L167.60,165.24 L168.01,165.38 L168.41,165.52 L168.82,165.66 L169.23,165.79 L169.63,165.93 L170.04,166.07 L170.45,166.21 L170.86,166.35 L171.26,166.48 L171.67,166.62 L172.08,166.76 L172.49,166.90 L172.90,167.03 L173.31,167.17 L173.71,167.31 L174.12,167.45 L174.53,167.58 L174.94,167.72 L175.35,167.85 L175.76,167.99 L176.17,168.13 L176.58,168.26 L176.99,168.40 L177.40,168.53 L177.81,168.67 L178.22,168.80 L178.63,168.94 L179.04,169.07 L179.45,169.21 L179.86,169.34 L180.27,169.48 L180.68,169.61 L181.09,169.74 L181.51,169.88 L181.92,170.01 L182.33,170.14 L182.74,170.28 L183.15,170.41 L183.57,170.54 L183.98,170.67 L184.39,170.81 L184.80,170.94 L185.22,171.07 L185.63,171.20 L186.05,171.33 L186.46,171.46 L186.87,171.59 L187.29,171.72 L187.70,171.86 L188.12,171.99 L188.53,172.12 L188.94,172.25 L189.36,172.38 L189.77,172.52 L190.18,172.65 L190.60,172.78 L191.01,172.92 L191.42,173.05 L191.83,173.18 L192.25,173.32 L192.66,173.46 L193.07,173.59 L193.48,173.73 L193.89,173.87 L194.30,174.01 L194.71,174.15 L195.12,174.29 L195.53,174.44 L195.93,174.58 L196.34,174.72 L196.75,174.87 L197.15,175.02 L197.56,175.17 L197.96,175.32 L198.36,175.47 L198.76,175.62 L199.16,175.78 L199.56,175.94 L199.96,176.09 L200.36,176.25 L200.76,176.42 L201.15,176.58 L201.55,176.74 L201.94,176.91 L202.34,177.08 L202.73,177.25 L203.12,177.43 L203.51,177.60 L203.89,177.78 L204.28,177.96 L204.66,178.14 L205.05,178.33 L205.43,178.52 L205.81,178.70 L206.19,178.90 L206.57,179.09 L206.94,179.29 L207.32,179.49 L207.69,179.69 L208.06,179.90 L208.43,180.11 L208.79,180.32 L209.16,180.53 L209.52,180.75 L209.89,180.97 L210.25,181.19 L210.60,181.42 L210.96,181.65 L211.31,181.88 L211.67,182.12 L212.02,182.36 L212.36,182.60 L212.71,182.85 L213.05,183.10 L213.40,183.35 L213.73,183.61 L214.07,183.87 L214.41,184.14 L214.74,184.40 L215.07,184.68 L215.40,184.95 L215.72,185.23 L216.05,185.51 L216.37,185.80 L216.69,186.09 L217.01,186.38 L217.32,186.67 L217.64,186.97 L217.95,187.27 L218.26,187.57 L218.57,187.87 L218.88,188.18 L219.19,188.48 L219.50,188.79 L219.81,189.09 L220.11,189.40 L220.42,189.71 L220.72,190.02 L221.03,190.33 L221.33,190.64 L221.64,190.95 L221.94,191.26 L222.24,191.57 L222.55,191.88 L222.85,192.19 L223.15,192.49 L223.46,192.80 L223.76,193.10 L224.07,193.40 L224.38,193.71 L224.68,194.00 L224.99,194.30 L225.30,194.60 L225.61,194.89 L225.92,195.18 L226.23,195.46 L226.54,195.75 L226.86,196.03 L227.17,196.30 L228.23,196.62 L229.15,197.01 L230.08,197.40 L231.00,197.80 L231.92,198.19 L232.85,198.58 L233.77,198.97 L234.70,199.35 L235.63,199.74 L236.55,200.13 L237.48,200.51 L238.41,200.90 L239.34,201.28 L240.26,201.66 L241.19,202.04 L242.12,202.43 L243.05,202.81 L243.98,203.19 L244.91,203.56 L245.84,203.94 L246.77,204.32 L247.70,204.70 L248.63,205.07 L249.56,205.45 L250.49,205.82 L251.42,206.19 L252.36,206.57 L253.29,206.94 L254.22,207.31 L255.15,207.68 L256.09,208.05 L257.02,208.42 L257.95,208.79 L258.89,209.16 L259.82,209.53 L260.75,209.90 L261.69,210.26 L262.62,210.63 L263.56,211.00 L264.49,211.36 L265.43,211.73 L266.36,212.09 L267.30,212.46 L268.23,212.82 L269.17,213.18 L270.11,213.55 L271.04,213.91 L271.98,214.27 L272.92,214.63 L273.85,214.99 L274.79,215.35 L275.73,215.71 L276.66,216.07 L277.60,216.43 L278.54,216.79 L279.47,217.15 L280.41,217.51 L281.35,217.87 L282.29,218.23 L283.23,218.59 L284.16,218.94 L285.10,219.30 L286.04,219.66 L286.98,220.01 L287.92,220.37 L288.86,220.72 L289.80,221.08 L290.74,221.44 L291.68,221.79 L292.61,222.14 L293.55,222.50 L294.49,222.85 L295.43,223.21 L296.37,223.56 L297.31,223.91 L298.25,224.27 L299.19,224.62 L300.13,224.97 L301.07,225.33 L302.01,225.68 L302.95,226.03 L303.89,226.38 L304.84,226.73 L305.78,227.08 L306.72,227.44 L307.66,227.79 L308.60,228.14 L309.54,228.49 L310.48,228.84 L311.42,229.19 L312.36,229.54 L313.30,229.89 L314.24,230.24 L315.19,230.59 L316.13,230.94 L317.07,231.29 L318.01,231.64 L318.95,231.99 L319.89,232.34 L320.83,232.69 L321.77,233.04 L322.72,233.39 L323.66,233.74 L324.60,234.09 L325.54,234.44 L326.48,234.79 L327.42,235.14 L328.36,235.49 L329.31,235.83 L330.25,236.18 L331.19,236.53 L332.13,236.88 L333.07,237.23 L334.01,237.58 L334.96,237.93 L335.90,238.28 L336.84,238.63 L337.78,238.98 L338.72,239.33 L339.66,239.68 L340.60,240.03 L341.55,240.38 L342.49,240.73 L343.43,241.08 L344.37,241.43 L345.31,241.78 L346.25,242.13 L347.19,242.48 L348.13,242.83 L349.08,243.18 L350.02,243.53 L350.96,243.88 L351.90,244.23 L352.84,244.58 L353.78,244.93 L354.72,245.28 L355.66,245.63 L356.60,245.98 L357.54,246.33 L358.49,246.68 L359.43,247.03 L360.37,247.38 L361.31,247.73 L362.25,248.09 L363.19,248.44 L364.13,248.79 L365.07,249.14 L366.01,249.49 L366.95,249.84 L367.89,250.19 L368.83,250.54 L369.77,250.90 L370.71,251.25 L371.66,251.60 L372.60,251.95 L373.54,252.30 L374.48,252.65 L375.42,253.01 L376.36,253.36 L377.30,253.71 L378.24,254.06 L379.18,254.41 L380.12,254.77 L381.06,255.12 L382.00,255.47 L382.94,255.82 L383.88,256.18 L384.82,256.53 L385.76,256.88 L386.70,257.23 L387.64,257.59 L388.58,257.94 L389.52,258.29 L390.46,258.65 L391.40,259.00 L392.34,259.35 L393.28,259.71 L394.22,260.06 L395.16,260.41 L396.10,260.77 L397.04,261.12 L397.98,261.47 L398.92,261.83 L399.86,262.18 L400.80,262.53 L401.74,262.89 L402.68,263.24 L403.62,263.59 L404.56,263.95 L405.50,264.30 L406.44,264.66 L407.38,265.01 L408.32,265.37 L409.26,265.72 L410.19,266.07 L411.13,266.43 L412.07,266.78 L413.01,267.14 L413.95,267.49 L414.89,267.85 L415.83,268.20 L416.77,268.56 L417.71,268.91 L418.65,269.27 L419.59,269.62 L420.53,269.98 L421.47,270.33 L422.41,270.69 L423.34,271.04 L424.28,271.40 L425.22,271.75 L426.16,272.11 L427.10,272.47 L428.04,272.82 L428.98,273.18 L429.92,273.53 L430.86,273.89 L431.79,274.25 L432.73,274.60 L433.67,274.96 L434.61,275.31 L435.55,275.67 L436.49,276.03 L437.43,276.38 L438.37,276.74 L439.30,277.10 L440.24,277.45 L441.18,277.81 L442.12,278.17 L443.06,278.52 L444.00,278.88 L444.94,279.24 L445.87,279.59 L446.81,279.95 L447.75,280.31 L448.69,280.67 L449.63,281.02 L450.56,281.38 L451.50,281.74 L452.44,282.10 L453.38,282.45 L454.32,282.81 L455.26,283.17 L456.19,283.53 L457.13,283.89 L458.07,284.24 L459.01,284.60 L459.95,284.96 L460.88,285.32 L461.82,285.68 L462.76,286.04 L463.70,286.39 L464.64,286.75 L465.57,287.11 L466.51,287.47 L467.45,287.83 L468.39,288.19 L469.32,288.55 L470.26,288.91 L471.20,289.27 L472.14,289.63 L473.07,289.98 L474.01,290.34 L474.95,290.70 L475.89,291.06 L476.82,291.42 L477.76,291.78 L478.70,292.14 L479.64,292.50 L480.57,292.86 L481.51,293.22 L482.45,293.58 L483.38,293.94 L484.32,294.30 L485.26,294.66 L486.20,295.02 L487.13,295.38 L488.07,295.75 L489.01,296.11 L489.94,296.47 L490.88,296.83 L491.82,297.19 L492.76,297.55 L493.69,297.91 L494.63,298.27 L495.57,298.63 L496.50,298.99 L497.44,299.36 L498.38,299.72 L499.31,300.08 L500.25,300.44 L501.19,300.80 L502.12,301.16 L503.06,301.53 L504.00,301.89 L504.93,302.25 L505.87,302.61 L506.80,302.98 L507.74,303.34 L508.68,303.70 L509.61,304.06 L510.55,304.43 L511.49,304.79 L512.42,305.15 L513.36,305.51 L514.30,305.88 L515.23,306.24 L516.17,306.60 L517.10,306.97 L518.04,307.33 L518.98,307.69 L519.91,308.06 L520.85,308.42 L521.78,308.78 L522.72,309.15 L523.66,309.51 L524.59,309.87 L525.53,310.24 L526.46,310.60 L527.40,310.97 L528.33,311.33 L529.27,311.69 L530.21,312.06 L531.14,312.42 L532.08,312.79 L533.01,313.15 L533.95,313.52 L534.88,313.88 L535.82,314.25 L536.75,314.61 L537.69,314.98 L538.62,315.34 L539.56,315.71 L540.50,316.07 L541.43,316.44 L542.37,316.80 L543.30,317.17 L544.24,317.53 L545.17,317.90 L546.11,318.27 L547.04,318.63 L547.98,319.00 L548.91,319.36 L549.85,319.73 L550.78,320.10 L551.72,320.46 L552.65,320.83 L553.59,321.20 L554.52,321.56 L555.46,321.93 L556.39,322.30 L557.32,322.66 L558.26,323.03 L559.19,323.40 L560.13,323.76 L561.06,324.13 L562.00,324.50 L562.93,324.87 L563.87,325.23 L564.80,325.60 L565.74,325.97 L566.67,326.34 L567.60,326.71 L568.54,327.07 L569.47,327.44 L570.41,327.81 L571.34,328.18 L572.27,328.55 L573.21,328.92 L574.14,329.28 L575.08,329.65 L576.01,330.02 L576.95,330.39 L577.88,330.76 L578.81,331.13 L579.75,331.50 L580.68,331.87 L581.61,332.24 L582.55,332.60 L583.48,332.97 L584.42,333.34 L585.35,333.71 L586.28,334.08 L587.22,334.45 L588.15,334.82 L589.08,335.19 L590.02,335.56 L590.95,335.93 L591.88,336.30 L592.82,336.67 L593.75,337.04 L594.68,337.42 L595.62,337.79 L596.55,338.16 L597.48,338.53 L598.42,338.90 L599.35,339.27 L600.28,339.64 L601.22,340.01" stroke="#006400" stroke-width="2.25"/>
</g>
<rect x="71.8" y="14.6" width="529.40" height="360.70" fill="none" stroke="#000" stroke-width="1.45"/>
<g font-family="Liberation Sans, sans-serif" font-size="17.2" fill="#000">
<path d="M202.1,220.9 H237.0" stroke="#ff0000" stroke-width="1.6" stroke-dasharray="3.85 1.4"/>
<text x="107.31" y="226.70" font-size="17.2">LHC</text>
<path transform="translate(143.30,226.70) scale(0.01698)" fill="#000" d="M185,0 L280,0 L280,-709 L222,-709 C204,-640 110,-578 0,-570 L0,-503 L185,-503 Z"/>
<text x="151.28" y="226.70" font-size="17.2">4, DY</text>
<path d="M202.1,244.66 H237.0" stroke="#ff0000" stroke-width="2.25"/>
<text x="194.3" y="252.16" text-anchor="end">DY <tspan dy="1.6">+</tspan><tspan dy="-1.6"> bb </tspan><tspan dy="1.6">+</tspan><tspan dy="-1.6"> gg</tspan></text>
<rect x="146.4" y="239.16" width="7.9" height="1.0" fill="#000"/>
<path d="M202.1,268.44 H237.0" stroke="#0000ff" stroke-width="1.6" stroke-dasharray="3.85 1.4"/>
<text x="116.87" y="274.24" font-size="17.2">LHC7, DY</text>
<path d="M202.1,292.2 H237.0" stroke="#0000ff" stroke-width="2.25"/>
<text x="194.3" y="299.70" text-anchor="end">DY <tspan dy="1.6">+</tspan><tspan dy="-1.6"> bb </tspan><tspan dy="1.6">+</tspan><tspan dy="-1.6"> gg</tspan></text>
<rect x="146.4" y="286.70" width="7.9" height="1.0" fill="#000"/>
<path d="M202.1,316.07 H237.0" stroke="#006400" stroke-width="1.6" stroke-dasharray="3.85 1.4"/>
<text x="92.97" y="321.87" font-size="17.2">Tevatron, DY</text>
<path d="M202.1,339.83 H237.0" stroke="#006400" stroke-width="2.25"/>
<text x="194.3" y="347.33" text-anchor="end">DY <tspan dy="1.6">+</tspan><tspan dy="-1.6"> bb </tspan><tspan dy="1.6">+</tspan><tspan dy="-1.6"> gg</tspan></text>
<rect x="146.4" y="334.33" width="7.9" height="1.0" fill="#000"/>
<path transform="translate(61.23,392.95) scale(0.01698)" fill="#000" d="M185,0 L280,0 L280,-709 L222,-709 C204,-640 110,-578 0,-570 L0,-503 L185,-503 Z"/>
<text x="69.22" y="392.95" font-size="17.2">00</text>
<path transform="translate(136.86,392.95) scale(0.01698)" fill="#000" d="M185,0 L280,0 L280,-709 L222,-709 C204,-640 110,-578 0,-570 L0,-503 L185,-503 Z"/>
<text x="144.85" y="392.95" font-size="17.2">50</text>
<text x="210.91" y="392.95" font-size="17.2">200</text>
<text x="286.54" y="392.95" font-size="17.2">250</text>
<text x="362.17" y="392.95" font-size="17.2">300</text>
<text x="437.79" y="392.95" font-size="17.2">350</text>
<text x="513.42" y="392.95" font-size="17.2">400</text>
<text x="589.05" y="392.95" font-size="17.2">450</text>
<path transform="translate(34.42,383.05) scale(0.01698)" fill="#000" d="M185,0 L280,0 L280,-709 L222,-709 C204,-640 110,-578 0,-570 L0,-503 L185,-503 Z"/>
<text x="42.40" y="383.05" font-size="17.2">0</text>
<text x="51.96" y="374.45" font-size="13.76">-7</text>
<path transform="translate(34.42,334.80) scale(0.01698)" fill="#000" d="M185,0 L280,0 L280,-709 L222,-709 C204,-640 110,-578 0,-570 L0,-503 L185,-503 Z"/>
<text x="42.40" y="334.80" font-size="17.2">0</text>
<text x="51.96" y="326.20" font-size="13.76">-6</text>
<path transform="translate(34.42,286.55) scale(0.01698)" fill="#000" d="M185,0 L280,0 L280,-709 L222,-709 C204,-640 110,-578 0,-570 L0,-503 L185,-503 Z"/>
<text x="42.40" y="286.55" font-size="17.2">0</text>
<text x="51.96" y="277.95" font-size="13.76">-5</text>
<path transform="translate(34.42,238.30) scale(0.01698)" fill="#000" d="M185,0 L280,0 L280,-709 L222,-709 C204,-640 110,-578 0,-570 L0,-503 L185,-503 Z"/>
<text x="42.40" y="238.30" font-size="17.2">0</text>
<text x="51.96" y="229.70" font-size="13.76">-4</text>
<path transform="translate(34.42,190.05) scale(0.01698)" fill="#000" d="M185,0 L280,0 L280,-709 L222,-709 C204,-640 110,-578 0,-570 L0,-503 L185,-503 Z"/>
<text x="42.40" y="190.05" font-size="17.2">0</text>
<text x="51.96" y="181.45" font-size="13.76">-3</text>
<path transform="translate(34.42,141.80) scale(0.01698)" fill="#000" d="M185,0 L280,0 L280,-709 L222,-709 C204,-640 110,-578 0,-570 L0,-503 L185,-503 Z"/>
<text x="42.40" y="141.80" font-size="17.2">0</text>
<text x="51.96" y="133.20" font-size="13.76">-2</text>
<path transform="translate(34.42,93.55) scale(0.01698)" fill="#000" d="M185,0 L280,0 L280,-709 L222,-709 C204,-640 110,-578 0,-570 L0,-503 L185,-503 Z"/>
<text x="42.40" y="93.55" font-size="17.2">0</text>
<text x="51.96" y="84.95" font-size="13.76">-</text>
<path transform="translate(57.81,84.95) scale(0.01359)" fill="#000" d="M185,0 L280,0 L280,-709 L222,-709 C204,-640 110,-578 0,-570 L0,-503 L185,-503 Z"/>
<path transform="translate(39.00,45.30) scale(0.01698)" fill="#000" d="M185,0 L280,0 L280,-709 L222,-709 C204,-640 110,-578 0,-570 L0,-503 L185,-503 Z"/>
<text x="46.98" y="45.30" font-size="17.2">0</text>
<text x="56.55" y="36.70" font-size="13.76">0</text>
</g>
<g font-family="Liberation Sans, sans-serif" fill="#000">
<text x="289.9" y="419.4" font-size="21.4">m</text>
<g transform="translate(307.10,426.20) scale(0.6400)" fill="none" stroke="#000" stroke-linecap="butt" stroke-linejoin="round"><path d="M0.6,-9.4 C1.3,-11.9 2.4,-12.7 4.2,-12.7 L12,-12.7" stroke-width="2.0"/><path d="M6.0,-12.7 L5.75,-4.2 C5.7,-1.7 6.9,-0.95 8.2,-0.95 C9.4,-0.95 10.3,-1.7 10.9,-3.0" stroke-width="1.9"/><path d="M1.3,-18.0 C2.0,-21.0 4.2,-21.4 6.1,-20.0 C8.0,-18.6 10.0,-18.6 11.2,-21.6" stroke-width="1.6"/></g>
<path transform="translate(315.90,431.40) scale(0.01283)" fill="#000" d="M185,0 L280,0 L280,-709 L222,-709 C204,-640 110,-578 0,-570 L0,-503 L185,-503 Z"/>
<text x="328.0" y="419.0" font-size="21.4">[GeV]</text>
<text transform="translate(16.6,222.2) rotate(-90)" font-size="21.4">σ</text>
<text transform="translate(16.6,204.55) rotate(-90)" font-size="21.4" letter-spacing="0.5">[pb]</text>
<text x="374.1" y="72.3" font-size="26.2">pp/pp -&gt;</text>
<rect x="424.6" y="53.3" width="11.5" height="1.4" fill="#000"/>
<g transform="translate(477.30,73.00) scale(1.0000)" fill="none" stroke="#000" stroke-linecap="butt" stroke-linejoin="round"><path d="M0.6,-9.4 C1.3,-11.9 2.4,-12.7 4.2,-12.7 L12,-12.7" stroke-width="2.0"/><path d="M6.0,-12.7 L5.75,-4.2 C5.7,-1.7 6.9,-0.95 8.2,-0.95 C9.4,-0.95 10.3,-1.7 10.9,-3.0" stroke-width="1.9"/><path d="M1.3,-18.0 C2.0,-21.0 4.2,-21.4 6.1,-20.0 C8.0,-18.6 10.0,-18.6 11.2,-21.6" stroke-width="1.6"/></g>
<path transform="translate(490.80,80.10) scale(0.02003)" fill="#000" d="M185,0 L280,0 L280,-709 L222,-709 C204,-640 110,-578 0,-570 L0,-503 L185,-503 Z"/>
<g transform="translate(500.60,73.00) scale(1.0000)" fill="none" stroke="#000" stroke-linecap="butt" stroke-linejoin="round"><path d="M0.6,-9.4 C1.3,-11.9 2.4,-12.7 4.2,-12.7 L12,-12.7" stroke-width="2.0"/><path d="M6.0,-12.7 L5.75,-4.2 C5.7,-1.7 6.9,-0.95 8.2,-0.95 C9.4,-0.95 10.3,-1.7 10.9,-3.0" stroke-width="1.9"/><path d="M1.3,-18.0 C2.0,-21.0 4.2,-21.4 6.1,-20.0 C8.0,-18.6 10.0,-18.6 11.2,-21.6" stroke-width="1.6"/></g>
<path transform="translate(514.00,80.10) scale(0.02003)" fill="#000" d="M185,0 L280,0 L280,-709 L222,-709 C204,-640 110,-578 0,-570 L0,-503 L185,-503 Z"/>
<text x="524.1" y="69.0" font-size="19.5">*</text>
</g>
</svg>
</body></html>
